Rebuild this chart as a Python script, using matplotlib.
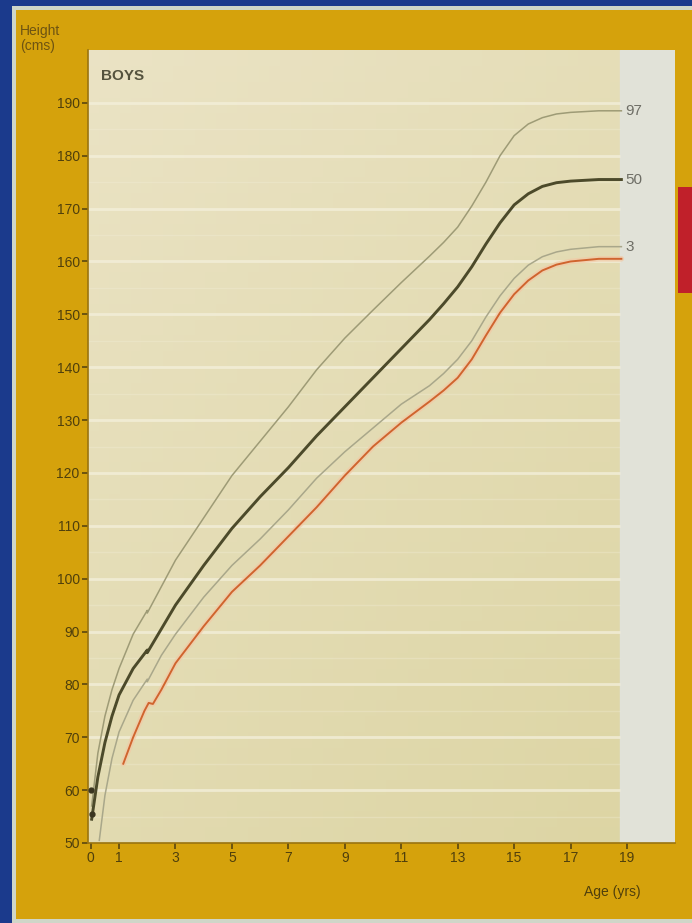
import numpy as np
import matplotlib
matplotlib.use("Agg")
import matplotlib.pyplot as plt
from matplotlib.patches import Rectangle

plt.rcParams["font.family"] = ["Liberation Sans", "DejaVu Sans"]

W, H = 692, 923

# percentile curves (age in years, height in cm)
age_97 = [0.03, 0.25, 0.5, 0.75, 1, 1.5, 2, 2.0, 2.5, 3, 4, 5, 6, 7, 8, 9, 10, 11, 12, 12.5, 13, 13.5,
          14, 14.5, 15, 15.5, 16, 16.5, 17, 18, 18.8]
h_97 = [57, 67, 74, 79, 83, 89.5, 94, 93.5, 98.5, 103.5, 111.5, 119.5, 126, 132.5, 139.5, 145.5, 150.8,
        156, 161, 163.6, 166.5, 170.5, 175, 180, 183.8, 186, 187.2, 187.9, 188.2, 188.5, 188.5]

age_50 = [0.03, 0.25, 0.5, 0.75, 1, 1.5, 2, 2.0, 2.5, 3, 4, 5, 6, 7, 8, 9, 10, 11, 12, 12.5, 13, 13.5,
          14, 14.5, 15, 15.5, 16, 16.5, 17, 18, 18.8]
h_50 = [54.5, 62.5, 69, 74, 78, 83, 86.5, 86, 90.5, 95, 102.5, 109.5, 115.5, 121, 127, 132.5, 138,
        143.5, 149, 152, 155.2, 159, 163.3, 167.3, 170.7, 172.8, 174.2, 174.9, 175.2, 175.5, 175.5]

age_3 = [0.3, 0.5, 0.75, 1, 1.5, 2, 2.0, 2.5, 3, 4, 5, 6, 7, 8, 9, 10, 11, 12, 12.5, 13, 13.5,
         14, 14.5, 15, 15.5, 16, 16.5, 17, 18, 18.8]
h_3 = [50.5, 59, 66, 71, 77, 81, 80.5, 85.5, 89.5, 96.5, 102.5, 107.5, 113, 119, 124, 128.5, 133,
       136.5, 138.8, 141.5, 145, 149.5, 153.5, 156.8, 159.3, 160.9, 161.8, 162.3, 162.8, 162.8]

# patient curve
age_pt = [1.15, 1.5, 1.9, 2.05, 2.2, 2.5, 3, 4, 5, 6, 7, 8, 9, 10, 11, 12, 12.5, 13, 13.5,
          14, 14.5, 15, 15.5, 16, 16.5, 17, 18, 18.8]
h_pt = [65, 70, 75, 76.5, 76.3, 79, 84, 91, 97.5, 102.5, 108, 113.5, 119.5, 125, 129.5, 133.5, 135.6,
        138, 141.5, 146, 150.3, 153.8, 156.4, 158.3, 159.4, 160, 160.5, 160.5]

# dark dots at birth on the axis
birth_age = [0.0, 0.05]
birth_h = [60, 55.5]

yticks = list(range(50, 200, 10))
xticks = [0, 1, 3, 5, 7, 9, 11, 13, 15, 17, 19]
curve_labels = ["97", "50", "3"]

fig = plt.figure(figsize=(W / 100, H / 100), dpi=100)
fig.patch.set_facecolor("#1b3a8c")


def px_rect(x0, y0, x1, y1, color, z):
    fig.patches.append(Rectangle((x0 / W, 1 - y1 / H), (x1 - x0) / W, (y1 - y0) / H,
                                 transform=fig.transFigure, facecolor=color,
                                 edgecolor="none", zorder=z))


# photo frame: light edge, orange board, red tab
px_rect(12, 6, W, H, "#cfd6c8", -3)
px_rect(16, 10, W, 919, "#d5a20c", -2)
px_rect(678, 187, W, 293, "#c0202a", -1)

ax = fig.add_axes([88 / W, 1 - 843 / H, (675 - 88) / W, (843 - 50) / H])
ax.set_xlim(-0.1, 20.7)
ax.set_ylim(50, 200)

# cream background with slight gradient
gx = np.linspace(0, 1, 50)
gy = np.linspace(0, 1, 50)
GX, GY = np.meshgrid(gx, gy)
c_top = np.array([0.92, 0.89, 0.77])
c_mid = np.array([0.86, 0.83, 0.63])
t = np.clip(0.55 * GY + 0.35 * GX, 0, 1)[..., None]
img = c_top * (1 - t) + c_mid * t
ax.imshow(img, extent=(-0.1, 18.76, 50, 200), aspect="auto", zorder=0, origin="upper")
ax.axvspan(18.76, 20.7, color="#e1e2d8", zorder=0)

ax.hlines(yticks[1:], -0.1, 18.76, colors="#f4f0dc", lw=2.0, alpha=0.75, zorder=1)
ax.hlines([y + 5 for y in yticks[:-1]], -0.1, 18.76, colors="#f4f0dc", lw=1.0, alpha=0.3, zorder=1)

ax.plot(age_97, h_97, color="#9e9b76", lw=1.1, zorder=3)
ax.plot(age_3, h_3, color="#a9a78a", lw=1.1, zorder=3)
ax.plot(age_pt, h_pt, color="#f2c9a6", lw=4.0, alpha=0.7, zorder=3, solid_capstyle="round")
ax.plot(age_pt, h_pt, color="#d0642e", lw=1.4, zorder=4)
ax.plot(age_50, h_50, color="#4c4a2a", lw=2.1, zorder=5)
ax.plot(birth_age, birth_h, "o", color="#3a3520", ms=3.5, zorder=6, clip_on=False)

for lab, yy in zip(curve_labels, [h_97[-1], h_50[-1], h_3[-1]]):
    ax.text(18.95, yy, lab, fontsize=11, color="#6e6e66", va="center", ha="left")

ax.text(0.35, 195, "BOYS", fontsize=11, fontweight="bold", color="#55533e", va="center")

ax.set_yticks(yticks)
ax.set_xticks(xticks)
ax.tick_params(direction="out", length=4, width=1.2, colors="#5a4610",
               labelsize=10, labelcolor="#4f3f0c", pad=2)
for s in ["top", "right"]:
    ax.spines[s].set_visible(False)
for s in ["left", "bottom"]:
    ax.spines[s].set_color("#9a7410")
    ax.spines[s].set_linewidth(1.2)

fig.text(20 / W, 1 - 24 / H, "Height\n(cms)", fontsize=10, color="#6e5412",
         va="top", ha="left", linespacing=1.05)
fig.text(641 / W, 1 - 892 / H, "Age (yrs)", fontsize=10, color="#4f3f0c",
         va="center", ha="right")

plt.savefig("out.png", dpi=100, facecolor=fig.get_facecolor())
